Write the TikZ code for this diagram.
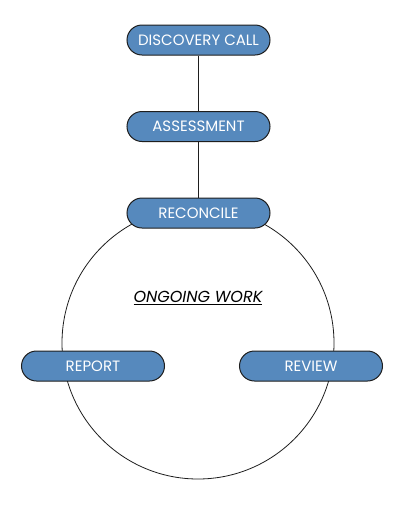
\documentclass[tikz,border=0pt]{standalone}
\usepackage{fontspec}
\setmainfont{Poppins}
\usepackage{xcolor}
\definecolor{stepblue}{RGB}{86,137,189}
\definecolor{edgegray}{RGB}{30,30,30}
\usetikzlibrary{positioning}

\begin{document}
\begin{tikzpicture}[x=1pt, y=-1pt, node distance=86.5pt, semithick,
		phase/.style={draw=edgegray, line width=1pt, fill=stepblue, rounded corners=15pt,
			minimum width=143pt, minimum height=30pt, inner sep=0pt,
			text=white, font=\fontsize{15}{18}\selectfont},
		loop/.style={draw=edgegray, line width=0.8pt, circle, minimum size=272pt, inner sep=0pt}]
				\useasboundingbox (0,0) rectangle (400,507);
				\node[loop]  (W) at (198,343) {};
				\node[phase] (D) at (198.5,40)      {DISCOVERY CALL};
		  		\node[phase] (A) [below of=D]       {ASSESSMENT};
		  		\node[phase] (R) [below of=A]       {RECONCILE};
		  		\node[phase] (P) at (93,366)        {REPORT};
		  		\node[phase] (V) at (311,366)       {REVIEW};
		  		\node[font=\fontsize{16}{19}\selectfont\itshape] (O) at (198,298) {\underline{ONGOING WORK}};

		  		\path	(D) edge[line width=0.8pt, draw=edgegray] (A)
		  				(A) edge[line width=0.8pt, draw=edgegray] (R);

			\end{tikzpicture}
\end{document}
